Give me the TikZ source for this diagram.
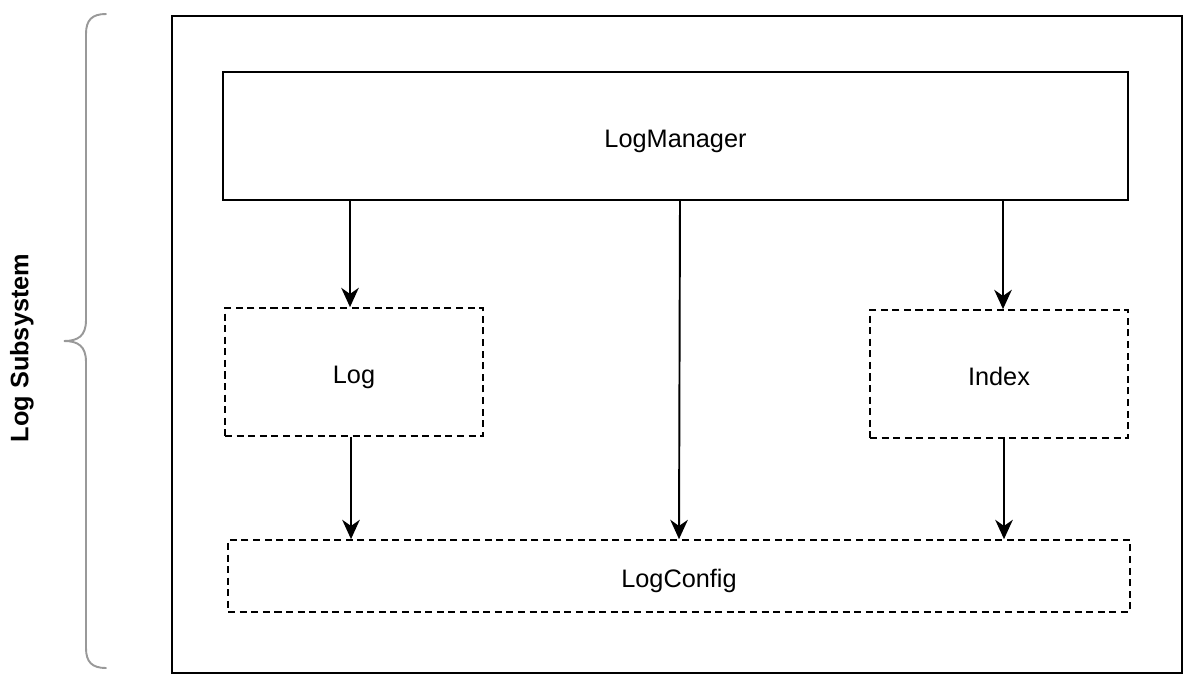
\documentclass[tikz,border=0pt]{standalone}
\usepackage{fontspec}
\setmainfont{Liberation Sans}
\usetikzlibrary{arrows.meta}

\begin{document}
\begin{tikzpicture}[x=0.02cm, y=-0.02cm,
          every node/.style = {shape=rectangle, inner sep=0pt, align=center, text height=13pt, text depth=0pt, font=\fontsize{14.4}{17}\selectfont},
          solidbox/.style = {draw, line width=1.1pt},
          dashbox/.style = {draw, line width=1pt, dash pattern=on 4pt off 2.6pt},
          arr/.style = {line width=1.1pt, -{Stealth[length=11pt, width=10pt, inset=3.5pt]}}]
          \useasboundingbox (0,0) rectangle (1193,687);
          % outer frame and brace
          \node[solidbox, minimum width=20.2cm, minimum height=13.14cm] (frame) at (677,344.5) {};
          \draw[line width=1.1pt, color=black!40, line cap=round] (106,14) .. controls (92,14) and (86,20) .. (86,34)
                -- (86,320) .. controls (86,336) and (78,341) .. (64,341)
                .. controls (78,341) and (86,346) .. (86,362)
                -- (86,648) .. controls (86,662) and (92,668) .. (106,668);
          \node[rotate=90, text height=, text depth=, font=\fontsize{14.4}{17}\selectfont\bfseries] (title) at (22,348) {Log Subsystem};
          % components
          \node[solidbox, minimum width=18.1cm, minimum height=2.56cm] (LogManager) at (675.5,136) {LogManager};
          \node[dashbox, minimum width=5.16cm, minimum height=2.56cm] (Log) at (354,372) {Log};
          \node[dashbox, minimum width=5.16cm, minimum height=2.56cm] (Index) at (999,374) {Index};
          \node[dashbox, minimum width=18.04cm, minimum height=1.44cm] (LogConfig) at (679,576) {LogConfig};
          % dependencies
          \draw[arr] ([xshift=-0.08cm]Log.north |- LogManager.south) -- ([xshift=-0.08cm]Log.north);
          \draw[arr] ([xshift=0.08cm]Index.north |- LogManager.south) -- ([xshift=0.08cm]Index.north);
          \draw[arr] ([xshift=0.09cm]LogManager.south) -- (LogConfig.north);
          \draw[arr] ([xshift=-0.06cm]Log.south) -- ([xshift=-0.06cm]Log.south |- LogConfig.north);
          \draw[arr] ([xshift=0.1cm]Index.south) -- ([xshift=0.1cm]Index.south |- LogConfig.north);
\end{tikzpicture}
\end{document}
